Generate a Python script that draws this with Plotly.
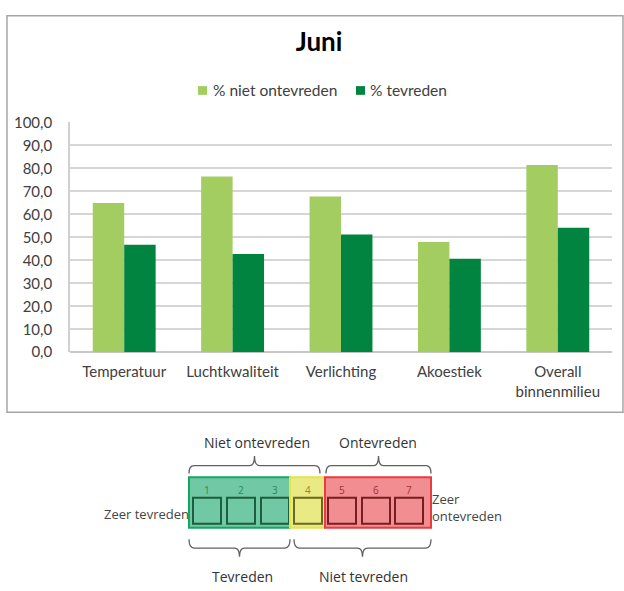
import plotly.graph_objects as go

# ---------------- data ----------------
categories = ["Temperatuur", "Luchtkwaliteit", "Verlichting", "Akoestiek", "Overall<br>binnenmilieu"]
niet_ontevreden = [65.0, 76.5, 67.8, 48.0, 81.5]
tevreden = [46.8, 42.8, 51.2, 40.7, 54.2]
series_names = ["% niet ontevreden", "% tevreden"]
y_ticks = [0, 10, 20, 30, 40, 50, 60, 70, 80, 90, 100]
scale_numbers = ["1", "2", "3", "4", "5", "6", "7"]

W, H = 624, 591
def px(x):
    return x / W
def py(y):
    return 1 - y / H

LIGHT = "#a3cd60"
DARK = "#00843f"
TXT = "#404040"
CFONT = "Lato"

fig = go.Figure()
fig.add_trace(go.Bar(x=categories, y=niet_ontevreden, name=series_names[0],
                     marker=dict(color=LIGHT, line=dict(width=0)), showlegend=False))
fig.add_trace(go.Bar(x=categories, y=tevreden, name=series_names[1],
                     marker=dict(color=DARK, line=dict(width=0)), showlegend=False))

shapes = []
annotations = []

# outer chart frame
shapes.append(dict(type="rect", xref="paper", yref="paper",
                   x0=px(7), x1=px(623), y0=py(415), y1=py(6),
                   line=dict(color="#a6a6a6", width=1.5), fillcolor="rgba(0,0,0,0)", layer="below"))

# legend (drawn as swatches + labels)
legend_items = [(198, 211, LIGHT, series_names[0]), (356, 368, DARK, series_names[1])]
for sx, tx, col, name in legend_items:
    shapes.append(dict(type="rect", xref="paper", yref="paper",
                       x0=px(sx), x1=px(sx + 9), y0=py(87.5), y1=py(78.5),
                       fillcolor=col, line=dict(width=0)))
    annotations.append(dict(x=px(tx), y=py(83), xref="paper", yref="paper", text=name,
                            showarrow=False, xanchor="left", yanchor="middle",
                            font=dict(family=CFONT, size=15.5, color=TXT)))

# ---------- scale diagram ----------
DFONT = "Open Sans"
def bracket(x1, x2, y, up=True, depth=8, tick=10):
    s = 1 if up else -1
    xc = (x1 + x2) / 2
    r = 5
    p = (f"M {px(x1)},{py(y + s*depth)} Q {px(x1)},{py(y)} {px(x1 + r)},{py(y)} "
         f"L {px(xc - r)},{py(y)} Q {px(xc)},{py(y)} {px(xc)},{py(y - s*tick)} "
         f"Q {px(xc)},{py(y)} {px(xc + r)},{py(y)} "
         f"L {px(x2 - r)},{py(y)} Q {px(x2)},{py(y)} {px(x2)},{py(y + s*depth)}")
    return dict(type="path", xref="paper", yref="paper", path=p,
                line=dict(color="#606060", width=1.3))

groups = [
    (189, 290, "rgba(92,192,152,0.88)", "#12a862", "#1d5e3e", "#2a8a5a", [0, 1, 2]),
    (290, 325, "rgba(232,232,120,0.9)", "#e3e34e", "#6a6a20", "#8a8a30", [3]),
    (325, 431, "rgba(240,130,134,0.9)", "#ec3a40", "#7a1c20", "#a03035", [4, 5, 6]),
]
num_x = [207, 241, 275, 308, 342, 376, 409]
for gx0, gx1, fill, border, inner, numc, idxs in groups:
    shapes.append(dict(type="rect", xref="paper", yref="paper",
                       x0=px(gx0), x1=px(gx1), y0=py(534), y1=py(482),
                       fillcolor=fill, line=dict(color=border, width=2)))
    for i in idxs:
        cx = num_x[i]
        shapes.append(dict(type="rect", xref="paper", yref="paper",
                           x0=px(cx - 14), x1=px(cx + 14), y0=py(530), y1=py(503),
                           fillcolor="rgba(0,0,0,0)", line=dict(color=inner, width=2)))
        annotations.append(dict(x=px(cx), y=py(495), xref="paper", yref="paper",
                                text=scale_numbers[i], showarrow=False,
                                xanchor="center", yanchor="middle",
                                font=dict(family=DFONT, size=10, color=numc)))

shapes.append(bracket(189, 320, 470, up=True, depth=8, tick=10))
shapes.append(bracket(326, 431, 470, up=True, depth=8, tick=10))
shapes.append(bracket(189, 290, 555, up=False, depth=9, tick=9))
shapes.append(bracket(294, 431, 555, up=False, depth=9, tick=9))

diag_texts = [
    (257, 446, "Niet ontevreden"),
    (378, 446, "Ontevreden"),
    (242, 584, "Tevreden"),
    (363, 584, "Niet tevreden"),
]
for x, y, t in diag_texts:
    annotations.append(dict(x=px(x), y=py(y), xref="paper", yref="paper", text=t,
                            showarrow=False, xanchor="center", yanchor="middle",
                            font=dict(family=DFONT, size=14, color="#333333")))
annotations.append(dict(x=px(191), y=py(520), xref="paper", yref="paper", text="Zeer tevreden",
                        showarrow=False, xanchor="right", yanchor="middle",
                        font=dict(family=DFONT, size=13, color="#444444")))
annotations.append(dict(x=px(430), y=py(513), xref="paper", yref="paper", text="Zeer<br>ontevreden",
                        showarrow=False, xanchor="left", yanchor="middle", align="left",
                        font=dict(family=DFONT, size=13, color="#444444")))

fig.update_layout(
    width=W, height=H,
    margin=dict(l=0, r=0, t=0, b=0),
    paper_bgcolor="white", plot_bgcolor="white",
    separators=",.",
    barmode="group", bargap=0.42, bargroupgap=0,
    font=dict(family=CFONT, size=15, color=TXT),
    showlegend=False,
    title=dict(text="<b>Juni</b>", x=px(319), xanchor="center", y=py(42), yanchor="middle",
               font=dict(family=CFONT, size=26, color="#000000")),
    xaxis=dict(domain=[px(70), px(612)], showgrid=False, showline=False,
               tickfont=dict(family=CFONT, size=15, color=TXT), ticklabelstandoff=9),
    yaxis=dict(domain=[py(353), py(116)], range=[0, 100], tickvals=y_ticks,
               tickformat=".1f", showgrid=True, gridcolor="#d6d6d6", gridwidth=1.6,
               zeroline=True, zerolinecolor="#c8c8c8", zerolinewidth=1.6,
               showline=True, linecolor="#d0d0d0", linewidth=1.6,
               tickfont=dict(family=CFONT, size=15, color=TXT), ticklabelstandoff=13),
    shapes=shapes, annotations=annotations,
)

fig.write_html("out.html", config={"displayModeBar": False},
               post_script="document.body.style.margin='0';document.body.style.overflow='hidden';")
